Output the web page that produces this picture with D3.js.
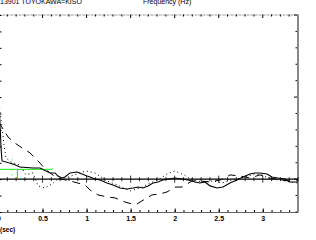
<!DOCTYPE html>
<html>
<head>
<meta charset="utf-8">
<script src="https://cdn.jsdelivr.net/npm/d3@7"></script>
<style>
  body { margin: 0; background: #fff; }
  svg { display: block; font-family: "Liberation Sans", Arial, sans-serif; }
</style>
</head>
<body>
<div id="chart"></div>
<script>
// time (sec) and amplitude readings
const solidT = [0, 0.01, 0.02, 0.03, 0.04, 0.165, 0.244, 0.392, 0.471, 0.585, 0.641, 0.675, 0.721, 0.755, 0.812, 0.891, 0.948, 1.005, 1.039, 1.095, 1.152, 1.231, 1.3, 1.379, 1.459, 1.527, 1.583, 1.64, 1.697, 1.754, 1.81, 1.867, 1.924, 2.003, 2.083, 2.151, 2.23, 2.287, 2.344, 2.401, 2.48, 2.548, 2.628, 2.707, 2.775, 2.855, 2.911, 2.968, 3.048, 3.104, 3.172, 3.252, 3.309, 3.4];
const solidV = [0.52, 0.42, 0.3, 0.18, 0.111, 0.093, 0.074, 0.068, 0.068, 0.038, 0.038, 0.019, 0.007, 0.013, 0.038, 0.044, 0.032, 0.019, 0.013, 0.001, -0.005, -0.023, -0.035, -0.054, -0.06, -0.054, -0.048, -0.054, -0.041, -0.023, -0.017, -0.005, 0.001, 0.007, 0.001, -0.005, -0.017, -0.023, -0.017, -0.041, -0.054, -0.048, -0.023, -0.005, 0.013, 0.032, 0.038, 0.038, 0.032, 0.013, 0.007, 0.001, -0.017, -0.017];

const dashT = [0, 0.074, 0.108, 0.187, 0.267, 0.358, 0.414, 0.471, 0.528, 0.585, 0.664, 0.812, 0.982, 1.039, 1.129, 1.231, 1.322, 1.436, 1.515, 1.572, 1.663, 1.742, 1.833, 1.913, 2.003, 2.083, 2.196, 2.287, 2.401, 2.514, 2.571, 2.628, 2.741, 2.855, 2.968, 3.082, 3.195, 3.309, 3.4];
const dashV = [0.35, 0.287, 0.257, 0.22, 0.19, 0.16, 0.129, 0.098, 0.062, 0.038, 0.007, -0.011, -0.035, -0.066, -0.096, -0.108, -0.114, -0.139, -0.151, -0.151, -0.121, -0.096, -0.09, -0.078, -0.048, -0.048, -0.011, -0.011, -0.017, -0.005, 0.007, 0.026, 0.019, 0.007, 0.026, 0.007, -0.005, -0.011, -0.005];

const dotT = [0, 0.04, 0.062, 0.085, 0.142, 0.244, 0.312, 0.392, 0.448, 0.528, 0.607, 0.675, 0.789, 0.891, 0.993, 1.095, 1.231, 1.345, 1.493, 1.606, 1.72, 1.833, 1.913, 2.003, 2.106, 2.196, 2.321, 2.435, 2.537, 2.65, 2.798, 2.911, 2.991, 3.082, 3.195, 3.309, 3.4];
const dotV = [0.48, 0.32, 0.21, 0.129, 0.105, 0.086, 0.026, 0.038, -0.041, -0.054, -0.029, 0.001, 0.013, 0.032, 0.05, 0.038, -0.011, -0.035, -0.072, -0.054, -0.023, 0.001, 0.032, 0.05, 0.026, -0.005, -0.017, -0.011, -0.023, -0.005, 0.013, 0.032, 0.026, 0.001, -0.005, -0.017, -0.023];

// green window marker
const greenT = [0, 0.6, 0.62];
const greenV = [0.06, 0.06, 0.065];
const greenBarT = [0.215];
const greenDotT = [0.155];

const xMajor = [0, 0.5, 1, 1.5, 2, 2.5, 3];
const xLabels = ["0", "0.5", "1", "1.5", "2", "2.5", "3"];
const xMinor = d3.range(0, 35).map(i => i / 10);
const yMinor = d3.range(-2, 11).map(i => i / 10);
const yMajor = [0, 0.5, 1];

const W = 316, H = 240;
const mLeft = -1.5, mRight = 298, mTop = 15, mBottom = 212;

const svg = d3.select("#chart").append("svg")
  .attr("width", W).attr("height", H);

const x = d3.scaleLinear().domain([0, 3.4]).range([mLeft, mRight]);
const y = d3.scaleLinear().domain([-0.2, 1.0]).range([mBottom, mTop]);
const isMajor = d => Math.abs(d * 2 - Math.round(d * 2)) < 1e-6;

// header text (cut at the top)
svg.append("text").attr("x", 0).attr("y", 4)
  .style("font-size", "7px").text("13901    TOYOKAWA=KISO");
svg.append("text").attr("x", 143).attr("y", 4)
  .style("font-size", "7px").text("Frequency (Hz)");

// top axis
const topAx = svg.append("g").attr("transform", `translate(0,${mTop})`);
topAx.append("line").attr("x1", mLeft).attr("x2", mRight)
  .attr("stroke", "#999").attr("stroke-width", 1).attr("stroke-dasharray", "3,1");
topAx.selectAll("line.t").data(xMinor).enter().append("line")
  .attr("x1", d => x(d)).attr("x2", d => x(d))
  .attr("y1", -0.5).attr("y2", d => isMajor(d) ? 3 : 1.5)
  .attr("stroke", "#000");

// bottom axis
const botAx = svg.append("g").attr("transform", `translate(0,${mBottom})`)
  .call(d3.axisBottom(x).tickValues(xMinor).tickSizeInner(-2).tickSizeOuter(0).tickFormat(""));
botAx.select(".domain").attr("stroke", "#666");
svg.append("g").attr("transform", `translate(0,${mBottom})`)
  .call(d3.axisBottom(x).tickValues(xMajor).tickSizeInner(-3.5).tickSizeOuter(0).tickPadding(4)
    .tickFormat((d, i) => xLabels[i]))
  .call(g => g.select(".domain").remove())
  .call(g => g.selectAll("text").style("font-size", "7px").style("font-weight", "bold")
    .style("font-family", "'Liberation Sans', Arial, sans-serif"));

svg.append("text").attr("x", 0).attr("y", 232)
  .style("font-size", "6.5px").style("font-weight", "bold").text("(sec)");

// right axis
svg.append("line").attr("x1", mRight).attr("x2", mRight).attr("y1", mTop).attr("y2", mBottom)
  .attr("stroke", "#888").attr("stroke-width", 2);
svg.append("g").selectAll("line").data(yMinor).enter().append("line")
  .attr("x1", mRight - 1).attr("x2", d => mRight - (yMajor.includes(d) ? 4 : 2.5))
  .attr("y1", d => y(d)).attr("y2", d => y(d))
  .attr("stroke", "#000");

// left axis
svg.append("g").attr("transform", `translate(${mLeft},0)`)
  .call(d3.axisLeft(y).tickValues(yMinor).tickSizeInner(-3).tickSizeOuter(0).tickFormat(""))
  .call(g => g.select(".domain").attr("stroke", "#000"));

// zero line with ticks
svg.append("line").attr("x1", mLeft).attr("x2", mRight).attr("y1", y(0)).attr("y2", y(0))
  .attr("stroke", "#000").attr("stroke-width", 1.1);
svg.append("g").selectAll("line").data(xMinor).enter().append("line")
  .attr("x1", d => x(d)).attr("x2", d => x(d))
  .attr("y1", d => y(0) - (isMajor(d) ? 3.5 : 2))
  .attr("y2", d => y(0) + (isMajor(d) ? 3.5 : 2))
  .attr("stroke", "#000").attr("stroke-width", 0.8);

const line = d3.line().x(d => x(d[0])).y(d => y(d[1]));
const plot = svg.append("g");

// green marker
plot.append("path").datum(d3.zip(greenT, greenV)).attr("d", line)
  .attr("fill", "none").attr("stroke", "#11ee11").attr("stroke-width", 1);
plot.selectAll("line.gb").data(greenBarT).enter().append("line")
  .attr("x1", d => x(d)).attr("x2", d => x(d)).attr("y1", y(0.06)).attr("y2", y(0))
  .attr("stroke", "#11ee11").attr("stroke-width", 1);
plot.selectAll("line.gd").data(greenDotT).enter().append("line")
  .attr("x1", d => x(d)).attr("x2", d => x(d)).attr("y1", y(0.12)).attr("y2", y(0))
  .attr("stroke", "#11ee11").attr("stroke-width", 1).attr("stroke-dasharray", "1,4");

plot.append("path").datum(d3.zip(dotT, dotV)).attr("d", line)
  .attr("fill", "none").attr("stroke", "#000").attr("stroke-width", 1)
  .attr("stroke-dasharray", "1,3");
plot.append("path").datum(d3.zip(dashT, dashV)).attr("d", line)
  .attr("fill", "none").attr("stroke", "#000").attr("stroke-width", 1)
  .attr("stroke-dasharray", "8,6");
plot.append("path").datum(d3.zip(solidT, solidV)).attr("d", line)
  .attr("fill", "none").attr("stroke", "#000").attr("stroke-width", 1.1);
</script>
</body>
</html>
